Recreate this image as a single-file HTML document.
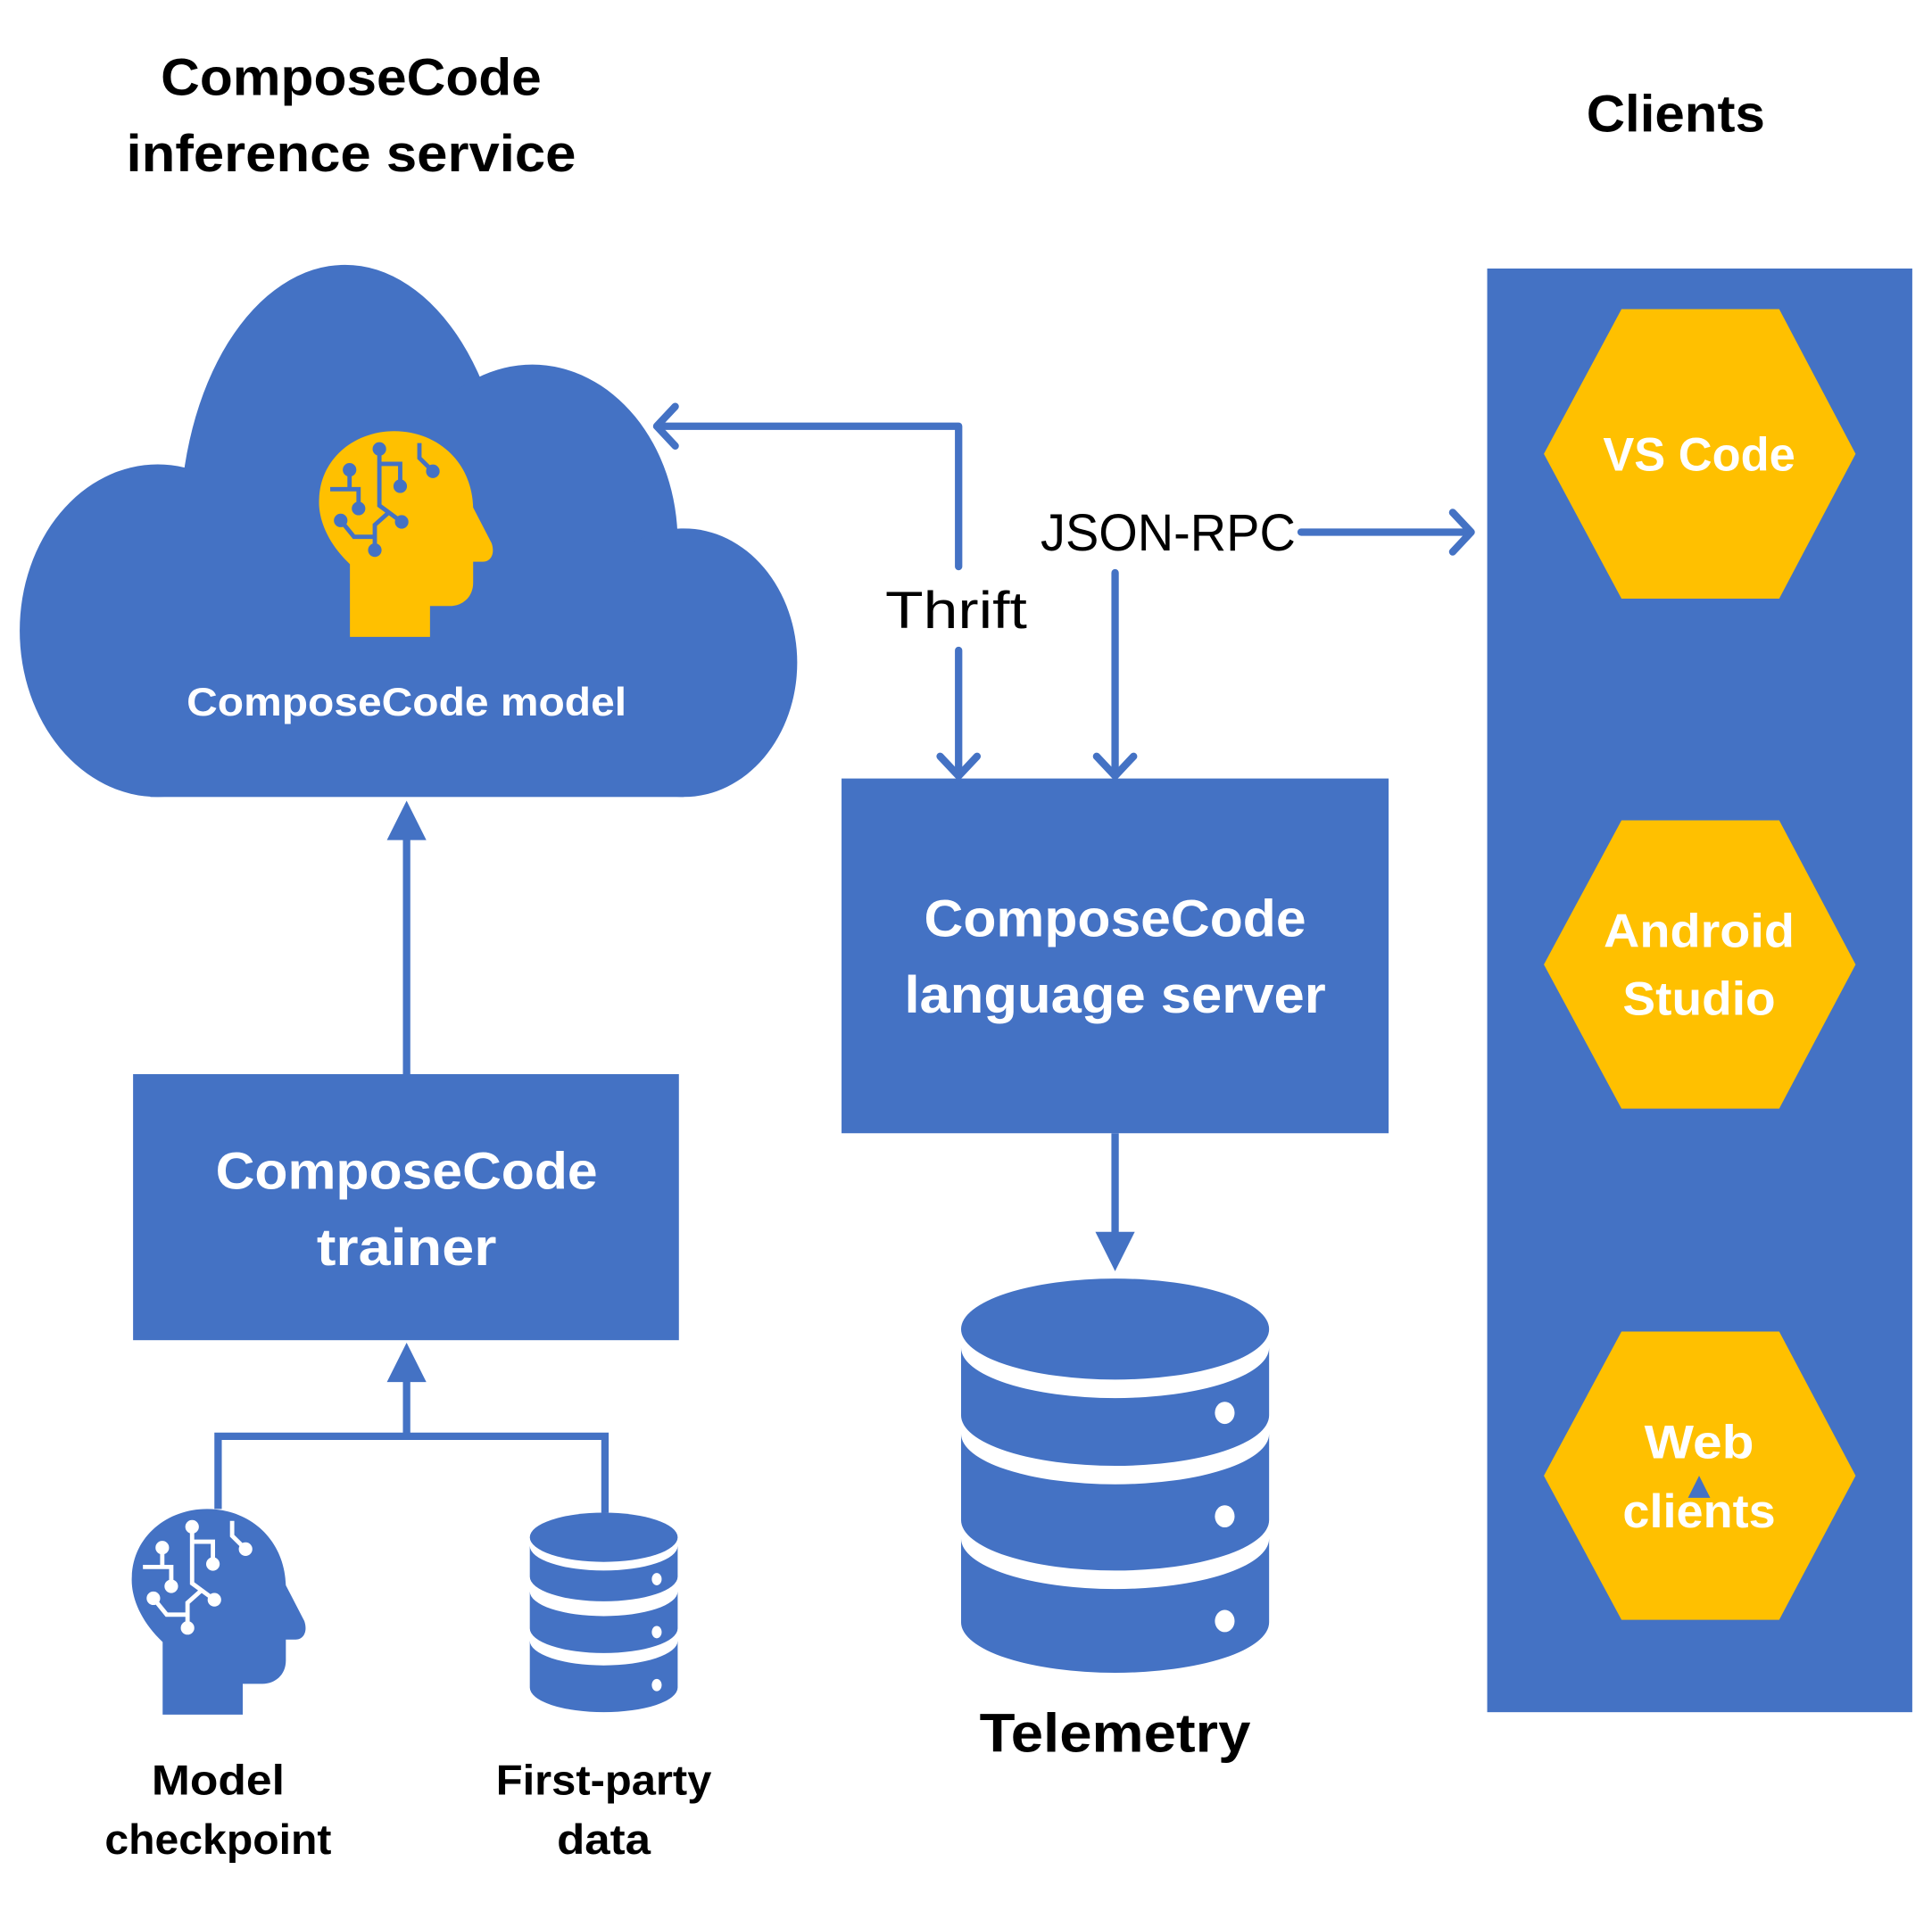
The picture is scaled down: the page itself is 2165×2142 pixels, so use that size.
<!DOCTYPE html>
<html><head><meta charset="utf-8"><style>html,body{margin:0;padding:0;background:#fff}svg{display:block}</style></head>
<body>
<svg xmlns="http://www.w3.org/2000/svg" width="2165" height="2142" viewBox="0 0 1568 1551.4" preserveAspectRatio="none" font-family="'Liberation Sans', sans-serif" font-weight="bold">
<defs>
<g id="head">
<path d="M284,517 L284,458 C265,440 258,420 259,405 C260,372 288,350 320,350 C355,350 383,375 384,412 L399,441 C402,450 398,456 392,456 L384,456 L384,473 C384,485 375,492 365,492 L349,492 L349,517 Z"/>
</g>
<g id="circ" fill="none" stroke-width="3.5">
<path d="M307.9,364.5 L307.9,410.4 L326,423.7 M307.9,376.6 L324.8,376.6 L324.8,394.7 M283.7,381.4 L283.7,397.1 M268,397.1 L291,397.1 L291,412.8 M276.5,422.5 L287.3,435.8 L304.2,435.8 M315.1,416.4 L304.2,426.1 L304.2,446.6 M340.4,359.7 L340.4,371.8 L351.3,382.6"/>
</g>
</defs>
<!-- titles -->
<text x="285" y="77" font-size="42" text-anchor="middle" textLength="309" lengthAdjust="spacingAndGlyphs">ComposeCode</text>
<text x="285" y="139" font-size="42" text-anchor="middle" textLength="365" lengthAdjust="spacingAndGlyphs">inference service</text>
<text x="1360" y="107" font-size="42" text-anchor="middle" textLength="145" lengthAdjust="spacingAndGlyphs">Clients</text>
<!-- cloud -->
<g fill="#4472C4">
<ellipse cx="128" cy="512" rx="112" ry="135"/>
<ellipse cx="280" cy="430" rx="134" ry="215"/>
<ellipse cx="432" cy="440" rx="118" ry="144"/>
<ellipse cx="555" cy="538" rx="92" ry="109"/>
<rect x="122" y="440" width="433" height="207"/>
</g>
<g fill="#FFC000"><use href="#head"/></g>
<g stroke="#4472C4" fill="#4472C4"><use href="#circ"/>
<circle cx="307.9" cy="364.5" r="5"/><circle cx="326" cy="423.7" r="5"/><circle cx="324.8" cy="394.7" r="5"/><circle cx="283.7" cy="381.4" r="5"/><circle cx="291" cy="412.8" r="5"/><circle cx="276.5" cy="422.5" r="5"/><circle cx="304.2" cy="446.6" r="5"/><circle cx="351.3" cy="382.6" r="5"/></g>
<text x="330" y="581" font-size="32" fill="#fff" text-anchor="middle" textLength="357" lengthAdjust="spacingAndGlyphs">ComposeCode model</text>
<!-- connectors -->
<g stroke="#4472C4" stroke-width="6" fill="none" stroke-linecap="round" stroke-linejoin="round">
<path d="M536,346 L778,346 L778,460"/>
<path d="M548,330 L533,346 L548,362"/>
<path d="M778,528 L778,628"/>
<path d="M763,614 L778,630 L793,614"/>
<path d="M905,465 L905,628"/>
<path d="M890,614 L905,630 L920,614"/>
<path d="M1056,432 L1192,432"/>
<path d="M1179,416 L1194,432 L1179,448"/>
<path d="M905,920 L905,1005" stroke-linecap="butt"/>
<path d="M330,872 L330,678" stroke-linecap="butt"/>
<path d="M177,1225 L177,1166 L491,1166 L491,1228" stroke-linecap="butt" stroke-linejoin="miter"/>
<path d="M330,1166 L330,1118" stroke-linecap="butt"/>
</g>
<g fill="#4472C4">
<polygon points="889,1000 921,1000 905,1032"/>
<polygon points="314,682 346,682 330,650"/>
<polygon points="314,1122 346,1122 330,1090"/>
</g>
<text x="776" y="510" font-size="42" font-weight="normal" text-anchor="middle" textLength="115" lengthAdjust="spacingAndGlyphs">Thrift</text>
<text x="948" y="447" font-size="42" font-weight="normal" text-anchor="middle" textLength="207" lengthAdjust="spacingAndGlyphs">JSON-RPC</text>
<!-- server -->
<rect x="683" y="632" width="444" height="288" fill="#4472C4"/>
<text x="905" y="760" font-size="42" fill="#fff" text-anchor="middle" textLength="310" lengthAdjust="spacingAndGlyphs">ComposeCode</text>
<text x="905" y="822" font-size="42" fill="#fff" text-anchor="middle" textLength="342" lengthAdjust="spacingAndGlyphs">language server</text>
<!-- trainer -->
<rect x="108" y="872" width="443" height="216" fill="#4472C4"/>
<text x="330" y="965" font-size="42" fill="#fff" text-anchor="middle" textLength="310" lengthAdjust="spacingAndGlyphs">ComposeCode</text>
<text x="330" y="1027" font-size="42" fill="#fff" text-anchor="middle" textLength="146" lengthAdjust="spacingAndGlyphs">trainer</text>
<!-- telemetry DB -->
<g fill="#4472C4">
<ellipse cx="905" cy="1079" rx="125" ry="41"/>
<path d="M780,1094 A125,41 0 0 0 1030,1094 L1030,1149 A125,41 0 0 1 780,1149 Z"/>
<path d="M780,1164 A125,41 0 0 0 1030,1164 L1030,1234 A125,41 0 0 1 780,1234 Z"/>
<path d="M780,1249 A125,41 0 0 0 1030,1249 L1030,1317 A125,41 0 0 1 780,1317 Z"/>
</g>
<g fill="#fff"><ellipse cx="994" cy="1147" rx="8" ry="9"/><ellipse cx="994" cy="1231" rx="8" ry="9"/><ellipse cx="994" cy="1316" rx="8" ry="9"/></g>
<text x="905" y="1422" font-size="44" text-anchor="middle" textLength="220" lengthAdjust="spacingAndGlyphs">Telemetry</text>
<!-- small DB -->
<g fill="#4472C4">
<ellipse cx="490" cy="1248" rx="60" ry="20"/>
<path d="M430,1255 A60,20 0 0 0 550,1255 L550,1280 A60,20 0 0 1 430,1280 Z"/>
<path d="M430,1292 A60,20 0 0 0 550,1292 L550,1322 A60,20 0 0 1 430,1322 Z"/>
<path d="M430,1332 A60,20 0 0 0 550,1332 L550,1370 A60,20 0 0 1 430,1370 Z"/>
</g>
<g fill="#fff"><ellipse cx="533" cy="1282" rx="4" ry="5"/><ellipse cx="533" cy="1325" rx="4" ry="5"/><ellipse cx="533" cy="1368" rx="4" ry="5"/></g>
<!-- small head -->
<g transform="translate(-152,875)">
<g fill="#4472C4"><use href="#head"/></g>
<g stroke="#fff" fill="#fff"><use href="#circ"/>
<circle cx="307.9" cy="364.5" r="5"/><circle cx="326" cy="423.7" r="5"/><circle cx="324.8" cy="394.7" r="5"/><circle cx="283.7" cy="381.4" r="5"/><circle cx="291" cy="412.8" r="5"/><circle cx="276.5" cy="422.5" r="5"/><circle cx="304.2" cy="446.6" r="5"/><circle cx="351.3" cy="382.6" r="5"/></g>
</g>
<g font-size="34" text-anchor="middle">
<text x="177" y="1457" textLength="108" lengthAdjust="spacingAndGlyphs">Model</text>
<text x="177" y="1505" textLength="184" lengthAdjust="spacingAndGlyphs">checkpoint</text>
<text x="490" y="1457" textLength="175" lengthAdjust="spacingAndGlyphs">First-party</text>
<text x="490" y="1505" textLength="76" lengthAdjust="spacingAndGlyphs">data</text>
</g>
<!-- clients panel -->
<rect x="1207" y="218" width="345" height="1172" fill="#4472C4"/>
<g fill="#FFC000">
<polygon points="1253,368.5 1316,251 1444,251 1506,368.5 1444,486 1316,486"/>
<polygon points="1253,783 1316,666 1444,666 1506,783 1444,900 1316,900"/>
<polygon points="1253,1198 1316,1081 1444,1081 1506,1198 1444,1315 1316,1315"/>
</g>
<g fill="#fff" font-size="38" text-anchor="middle">
<text x="1379" y="382" textLength="156" lengthAdjust="spacingAndGlyphs">VS Code</text>
<text x="1379" y="769" textLength="155" lengthAdjust="spacingAndGlyphs">Android</text>
<text x="1379" y="824" textLength="124" lengthAdjust="spacingAndGlyphs">Studio</text>
<text x="1379" y="1184" textLength="89" lengthAdjust="spacingAndGlyphs">Web</text>
<text x="1379" y="1240" textLength="124" lengthAdjust="spacingAndGlyphs">clients</text>
</g>
<polygon points="1379,1198 1370,1216 1388,1216" fill="#4472C4"/>
</svg>
</body></html>
